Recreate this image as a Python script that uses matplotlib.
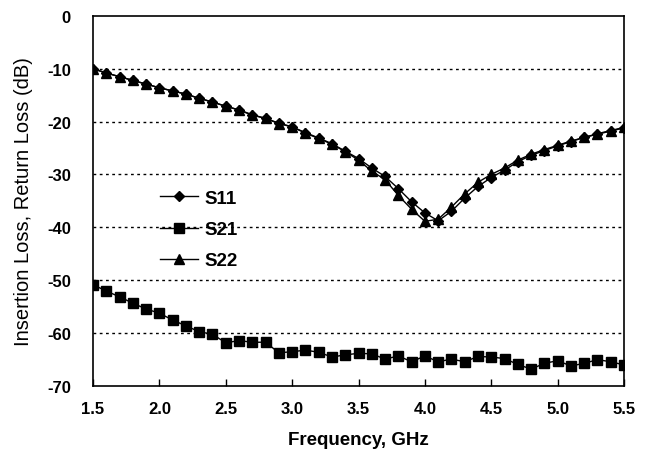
import numpy as np
import matplotlib
matplotlib.use("Agg")
import matplotlib.pyplot as plt

# frequency points, GHz
freq = [1.5, 1.6, 1.7, 1.8, 1.9, 2.0, 2.1, 2.2, 2.3, 2.4, 2.5,
        2.6, 2.7, 2.8, 2.9, 3.0, 3.1, 3.2, 3.3, 3.4, 3.5,
        3.6, 3.7, 3.8, 3.9, 4.0, 4.1, 4.2, 4.3, 4.4, 4.5,
        4.6, 4.7, 4.8, 4.9, 5.0, 5.1, 5.2, 5.3, 5.4, 5.5]

s11 = [-10.0, -10.8, -11.5, -12.2, -12.9, -13.6, -14.2, -14.8, -15.6, -16.3, -17.1,
       -17.8, -18.7, -19.4, -20.3, -21.0, -22.1, -23.1, -24.2, -25.6, -27.0,
       -28.8, -30.4, -32.7, -35.2, -37.3, -38.8, -37.0, -34.5, -32.3, -30.6,
       -29.2, -27.6, -26.4, -25.5, -24.6, -23.8, -23.0, -22.4, -21.8, -21.2]

s21 = [-50.9, -52.1, -53.2, -54.4, -55.5, -56.3, -57.6, -58.7, -59.8, -60.3, -61.9,
       -61.5, -61.8, -61.8, -63.8, -63.6, -63.3, -63.7, -64.6, -64.2, -63.9,
       -64.0, -65.0, -64.4, -65.5, -64.4, -65.5, -65.0, -65.5, -64.5, -64.6,
       -64.9, -66.0, -66.9, -65.8, -65.3, -66.3, -65.8, -65.1, -65.5, -66.1]

s22 = [-10.0, -10.8, -11.5, -12.2, -12.9, -13.6, -14.2, -14.8, -15.6, -16.3, -17.1,
       -17.8, -18.8, -19.4, -20.4, -21.0, -22.2, -23.2, -24.3, -25.7, -27.3,
       -29.4, -31.0, -34.0, -36.6, -38.9, -38.5, -36.2, -33.7, -31.5, -30.0,
       -28.8, -27.3, -26.2, -25.3, -24.5, -23.7, -23.0, -22.3, -21.7, -21.1]

xticks = [1.5, 2.0, 2.5, 3.0, 3.5, 4.0, 4.5, 5.0, 5.5]
yticks = [0, -10, -20, -30, -40, -50, -60, -70]

plt.rcParams['font.family'] = ['Liberation Sans', 'DejaVu Sans']

fig = plt.figure(figsize=(6.49, 4.64), dpi=100)
ax = fig.add_axes([0.1433, 0.167, 0.8182, 0.7964])

# dotted grid lines
for g in yticks[1:-1]:
    ax.axhline(g, color='black', linestyle=(0, (2, 2.5)), linewidth=1.0, zorder=1)

ax.plot(freq, s11, color='black', linewidth=1.0, marker='D', markersize=5.5,
        label='S11', zorder=3)
ax.plot(freq, s21, color='black', linewidth=1.0, marker='s', markersize=7,
        label='S21', zorder=3)
ax.plot(freq, s22, color='black', linewidth=1.0, marker='^', markersize=7,
        label='S22', zorder=3)

ax.set_xlim(1.5, 5.5)
ax.set_ylim(-70, 0)
ax.set_xticks(xticks)
ax.set_xticklabels(['%.1f' % t for t in xticks], fontsize=12, fontweight='bold')
ax.set_yticks(yticks)
ax.set_yticklabels([str(t) for t in yticks], fontsize=12, fontweight='bold')
ax.tick_params(axis='x', direction='in', length=5, width=1, pad=11)
ax.tick_params(axis='y', direction='in', length=0, pad=16)

for sp in ax.spines.values():
    sp.set_linewidth(1.2)
    sp.set_color('black')

ax.set_xlabel('Frequency, GHz', fontsize=13.5, fontweight='semibold', labelpad=11)
ax.set_ylabel('Insertion Loss, Return Loss (dB)', fontsize=14.5, labelpad=10)

leg = ax.legend(loc='upper left', bbox_to_anchor=(0.095, 0.575), frameon=False,
                fontsize=13.5, handlelength=2.0, labelspacing=0.75, handletextpad=0.35)
for t in leg.get_texts():
    t.set_fontweight('bold')

fig.savefig('out.png', dpi=100)
